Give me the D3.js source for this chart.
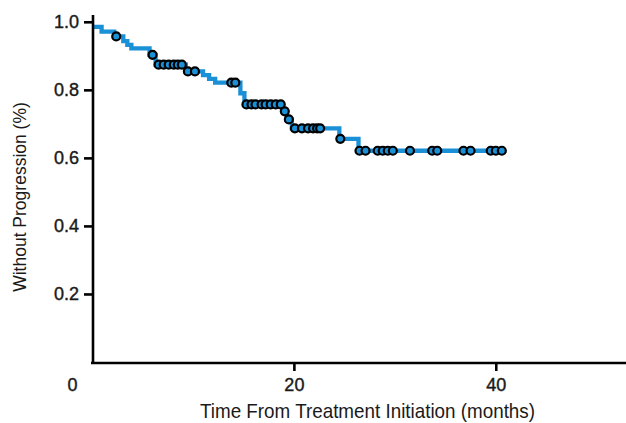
<!DOCTYPE html>
<html>
<head>
<meta charset="utf-8">
<script src="https://cdn.jsdelivr.net/npm/d3@7"></script>
<style>
  body { margin: 0; background: #fff; }
  svg { display: block; }
  .axis text { font-family: "Liberation Sans", Arial, sans-serif; font-size: 18px; fill: #1a1a1a; stroke: #1a1a1a; stroke-width: 0.4; }
  .axis path, .axis line { stroke: #000; stroke-width: 2.6; }
</style>
</head>
<body>
<div id="chart"></div>
<script>
// step changes of the curve (months, proportion without progression)
var stepTimes = [0, 0.95, 2.2, 3.1, 3.5, 3.9, 5.7, 6.3, 9.3, 11.0, 11.6, 12.2, 14.7, 15.1, 18.9, 19.3, 19.8, 24.5, 26.4];
var stepValues = [0.985, 0.971, 0.957, 0.943, 0.932, 0.922, 0.903, 0.874, 0.854, 0.843, 0.832, 0.821, 0.79, 0.757, 0.737, 0.713, 0.687, 0.656, 0.621];
// censored observations (months)
var censorTimes = [2.4, 6.0, 6.6, 7.1, 7.6, 8.1, 8.5, 8.9, 9.5, 10.2, 13.8, 14.2, 15.3, 15.8, 16.2, 16.8, 17.2, 17.7, 18.2, 18.7,
  19.1, 19.5, 20.1, 20.8, 21.4, 21.9, 22.3, 22.6, 24.6, 26.5, 27.1, 28.3, 28.8, 29.3, 29.8, 31.5, 33.7, 34.2, 36.8, 37.5, 39.5, 40.0, 40.6];
var xTicks = [0, 20, 40];
var yTicks = [0.2, 0.4, 0.6, 0.8, 1.0];

var width = 626, height = 423;
var blue = "#1a90d6";

var x = d3.scaleLinear().domain([0, 53]).range([92, 627]);
var y = d3.scaleLinear().domain([0, 1.02]).range([362, 15]);

var svg = d3.select("#chart").append("svg")
  .attr("width", width)
  .attr("height", height);

// value of the curve at time t
function survAt(t) {
  var v = stepValues[0];
  for (var i = 0; i < stepTimes.length; i++) {
    if (stepTimes[i] <= t) v = stepValues[i];
  }
  return v;
}

var pts = stepTimes.map(function (t, i) { return [t, stepValues[i]]; });
var lastT = d3.max(censorTimes);
pts.push([lastT, survAt(lastT)]);

var line = d3.line()
  .x(function (d) { return x(d[0]); })
  .y(function (d) { return y(d[1]); })
  .curve(d3.curveStepAfter);

svg.append("path")
  .datum(pts)
  .attr("fill", "none")
  .attr("stroke", blue)
  .attr("stroke-width", 4.3)
  .attr("d", line);

svg.selectAll("circle.cens")
  .data(censorTimes)
  .enter()
  .append("circle")
  .attr("class", "cens")
  .attr("cx", function (d) { return x(d); })
  .attr("cy", function (d) { return y(survAt(d)); })
  .attr("r", 4)
  .attr("fill", blue)
  .attr("stroke", "#000")
  .attr("stroke-width", 2.2);

// axes
var xAxis = svg.append("g")
  .attr("class", "axis")
  .attr("transform", "translate(0," + 363 + ")")
  .call(d3.axisBottom(x).tickValues(xTicks).tickFormat(d3.format("d")).tickSize(8).tickSizeOuter(0));
xAxis.select(".domain").attr("d", "M" + (x(0) - 1) + ",0H" + width);
xAxis.selectAll(".tick text").attr("dy", "0.95em");
xAxis.selectAll(".tick").filter(function (d) { return d === 0; })
  .call(function (g) {
    g.select("line").remove();
    g.select("text").attr("dx", -20);
  });

var yAxis = svg.append("g")
  .attr("class", "axis")
  .attr("transform", "translate(" + 93 + ",0)")
  .call(d3.axisLeft(y).tickValues(yTicks).tickFormat(d3.format(".1f")).tickSize(9).tickSizeOuter(0));
yAxis.select(".domain").attr("d", "M0," + y(1.02) + "V" + 364);
yAxis.selectAll(".tick text").attr("dx", "-2");

svg.append("text")
  .attr("x", 200)
  .attr("y", 418)
  .attr("textLength", 335)
  .attr("lengthAdjust", "spacingAndGlyphs")
  .style("font-family", "'Liberation Sans', Arial, sans-serif")
  .style("font-size", "21px")
  .style("fill", "#1a1a1a")
  .text("Time From Treatment Initiation (months)");

svg.append("text")
  .attr("transform", "translate(26,197) rotate(-90)")
  .attr("text-anchor", "middle")
  .style("font-family", "'Liberation Sans', Arial, sans-serif")
  .style("font-size", "17.5px")
  .style("fill", "#1a1a1a")
  .text("Without Progression (%)");
</script>
</body>
</html>
